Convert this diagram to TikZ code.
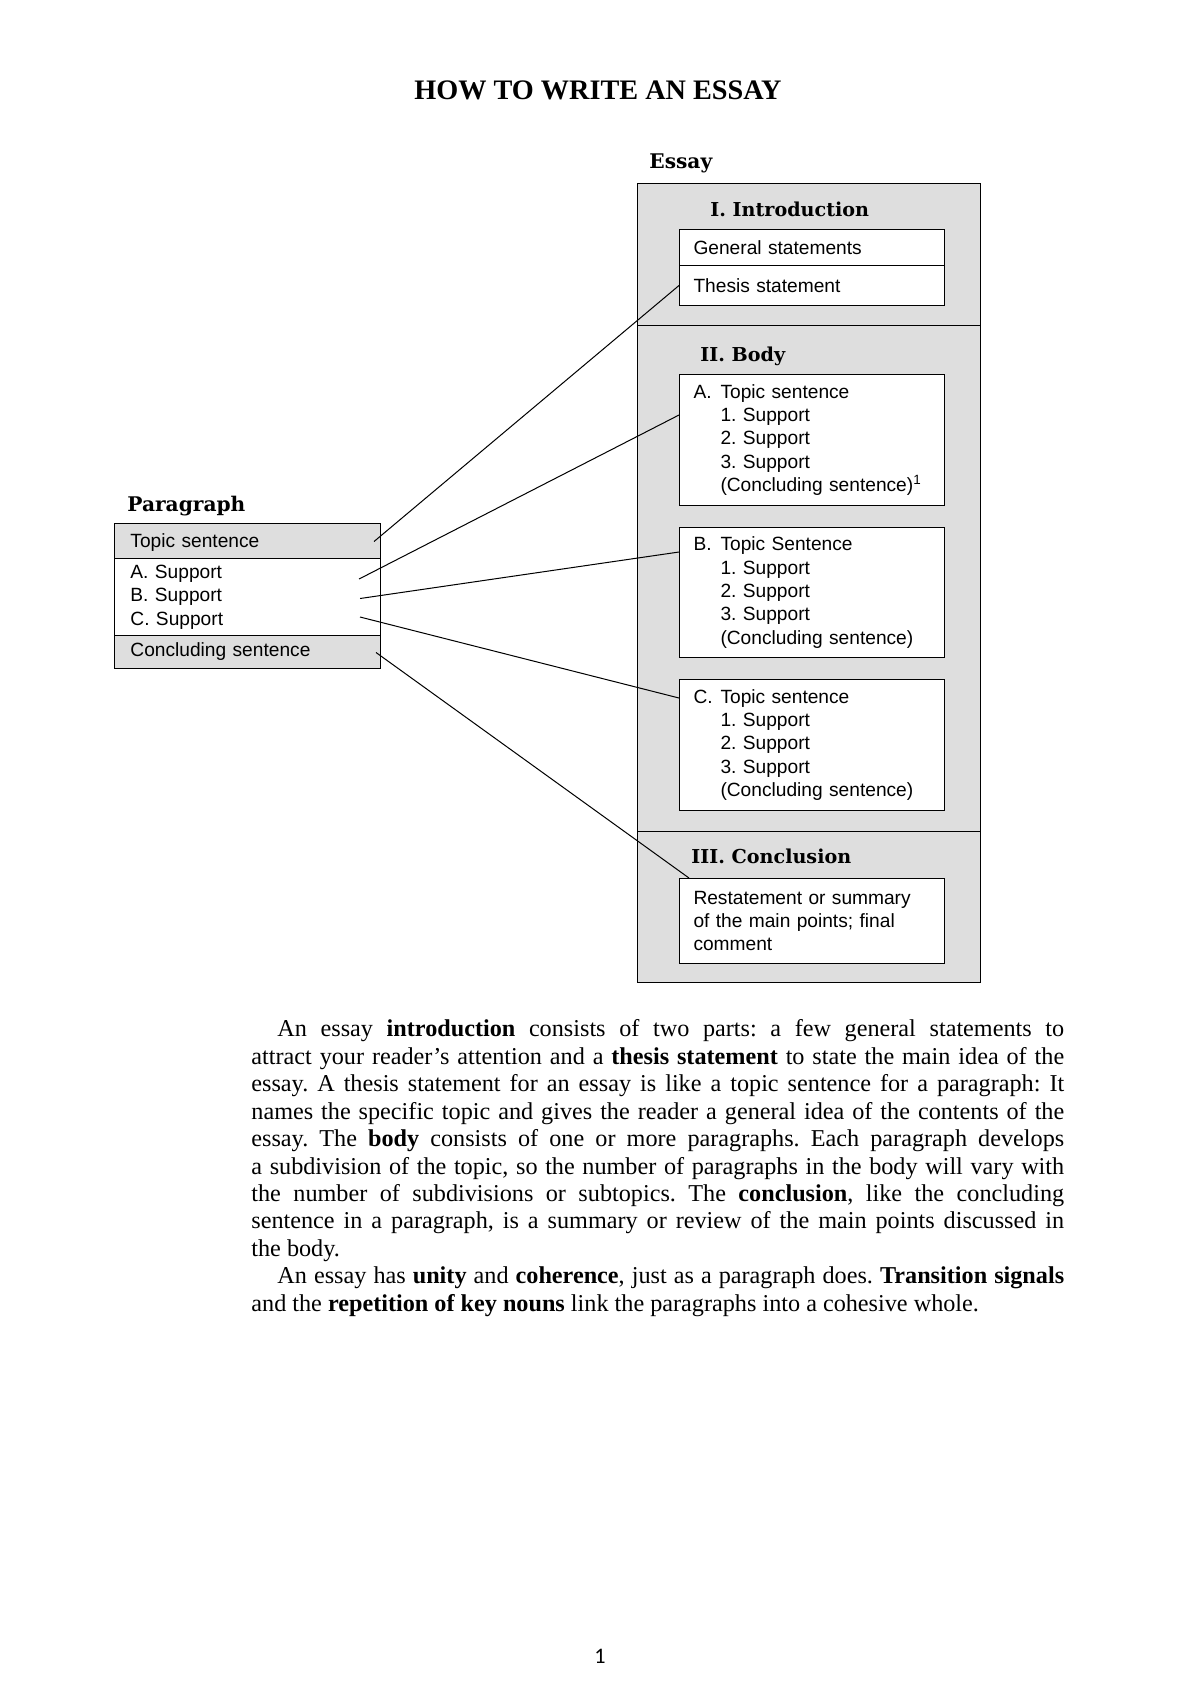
\documentclass[tikz,border=0pt]{standalone}
\usepackage{fontspec}
\setmainfont{Liberation Serif}
\newfontfamily\boxfont{Liberation Sans}
\newfontfamily\headfont{DejaVu Serif}
\newfontfamily\numfont{Carlito}
\usepackage{xcolor}
\usepackage{tikz}
\usetikzlibrary{calc}

\newcommand{\itemlbl}[1]{\makebox[13.4pt][l]{#1}}
\frenchspacing

\begin{document}
\begin{tikzpicture}[x=0.4958pt, y=-0.4958pt,
    essaysec/.style={draw, line width=0.6pt, fill=black!13, anchor=north west, inner sep=0pt, minimum width=170.1pt},
    inbox/.style={draw, line width=0.5pt, fill=white, anchor=north west, inner xsep=6.94pt, inner ysep=0pt, text width=117.5pt, align=left, font=\boxfont\fontsize{9.5}{11.6}\selectfont},
    parrow/.style={draw, line width=0.5pt, anchor=north west, inner xsep=7.9pt, inner ysep=0pt, text width=116.1pt, align=left, font=\boxfont\fontsize{9.5}{11.65}\selectfont},
    heading/.style={anchor=base west, inner sep=0pt, font=\headfont\bfseries\fontsize{9.5}{11}\selectfont},
    boxtitle/.style={anchor=base west, inner sep=0pt, font=\headfont\bfseries\fontsize{10}{12}\selectfont},
    connector/.style={line width=0.5pt}
]
    \path[use as bounding box, fill=white] (0,0) rectangle (1200,1697);

    \node[anchor=base, inner sep=0pt, font=\bfseries\fontsize{14}{16}\selectfont] (title) at (598,99) {HOW TO WRITE AN ESSAY};

    \node[boxtitle] (essaylbl) at (649,168) {Essay};
    \node[essaysec, minimum height=70.4pt] (secintro) at (637,183) {};
    \node[essaysec, minimum height=250.9pt] (secbody) at (637,325) {};
    \node[essaysec, minimum height=74.9pt] (secconcl) at (637,831) {};

    \node[heading] (hintro) at (710,216) {I. Introduction};
    \node[inbox, minimum height=17.85pt] (general) at (679,229) {General statements};
    \node[inbox, minimum height=19.83pt] (thesis) at (679,265) {Thesis statement};

    \node[heading] (hbody) at (700,361) {II. Body};
    \node[inbox, minimum height=64.95pt] (bodyA) at (679,374) {\itemlbl{A.}Topic sentence\\\itemlbl{}1. Support\\\itemlbl{}2. Support\\\itemlbl{}3. Support\\\itemlbl{}(Concluding sentence)\textsuperscript{1}};
    \node[inbox, minimum height=64.45pt] (bodyB) at (679,527) {\itemlbl{B.}Topic Sentence\\\itemlbl{}1. Support\\\itemlbl{}2. Support\\\itemlbl{}3. Support\\\itemlbl{}(Concluding sentence)};
    \node[inbox, minimum height=64.95pt] (bodyC) at (679,679) {\itemlbl{C.}Topic sentence\\\itemlbl{}1. Support\\\itemlbl{}2. Support\\\itemlbl{}3. Support\\\itemlbl{}(Concluding sentence)};

    \node[heading] (hconcl) at (691,863) {III. Conclusion};
    \node[inbox, minimum height=42.1pt, font=\boxfont\fontsize{9.5}{11.4}\selectfont] (concl) at (679,878) {Restatement or summary\\of the main points; final\\comment};

    \node[boxtitle] (paralbl) at (127,511) {Paragraph};
    \node[parrow, fill=black!13, minimum height=17.35pt, text depth=0pt] (ptopic) at (114,523) {Topic sentence};
    \node[parrow, fill=white, minimum height=38.18pt] (pbody) at (114,558) {A. Support\\B. Support\\C. Support};
    \node[parrow, fill=black!13, minimum height=16.36pt] (pconcl) at (114,635) {Concluding sentence};

    \coordinate (srctopic) at ($(ptopic.east)+(-7,0.5)$);
    \coordinate (srcA) at ($(pbody.east)+(-22,-18)$);
    \coordinate (srcB) at ($(pbody.east)+(-21,1.5)$);
    \coordinate (srcC) at ($(pbody.east)+(-21,20)$);
    \coordinate (srcconcl) at ($(pconcl.east)+(-5,0.5)$);

    \draw[connector] (srctopic) -- (thesis.west);
    \draw[connector] (srcA) -- ($(bodyA.north west)+(0,41)$);
    \draw[connector] (srcB) -- ($(bodyB.north west)+(0,25)$);
    \draw[connector] (srcC) -- ($(bodyC.north west)+(0,19)$);
    \draw[connector] (srcconcl) -- ($(concl.north west)+(10,0)$);

    \node[anchor=north west, inner sep=0pt, text width=403pt, align=justify, font=\fontsize{12}{13.6}\selectfont] (expl) at (251,1019.5) {%
\hspace*{12.9pt}An essay \textbf{introduction} consists of two parts: a few general statements to\linebreak
attract your reader’s attention and a \textbf{thesis statement} to state the main idea of the\linebreak
essay. A thesis statement for an essay is like a topic sentence for a paragraph: It\linebreak
names the specific topic and gives the reader a general idea of the contents of the\linebreak
essay. The \textbf{body} consists of one or more paragraphs. Each paragraph develops\linebreak
a subdivision of the topic, so the number of paragraphs in the body will vary with\linebreak
the number of subdivisions or subtopics. The \textbf{conclusion}, like the concluding\linebreak
sentence in a paragraph, is a summary or review of the main points discussed in\linebreak
the body.\par
\hspace*{12.9pt}An essay has \textbf{unity} and \textbf{coherence}, just as a paragraph does. \textbf{Transition signals}\linebreak
and the \textbf{repetition of key nouns} link the paragraphs into a cohesive whole.};

    \node[anchor=base, inner sep=0pt, font=\numfont\fontsize{11}{13}\selectfont] (pageno) at (600,1663) {1};
\end{tikzpicture}
\end{document}
